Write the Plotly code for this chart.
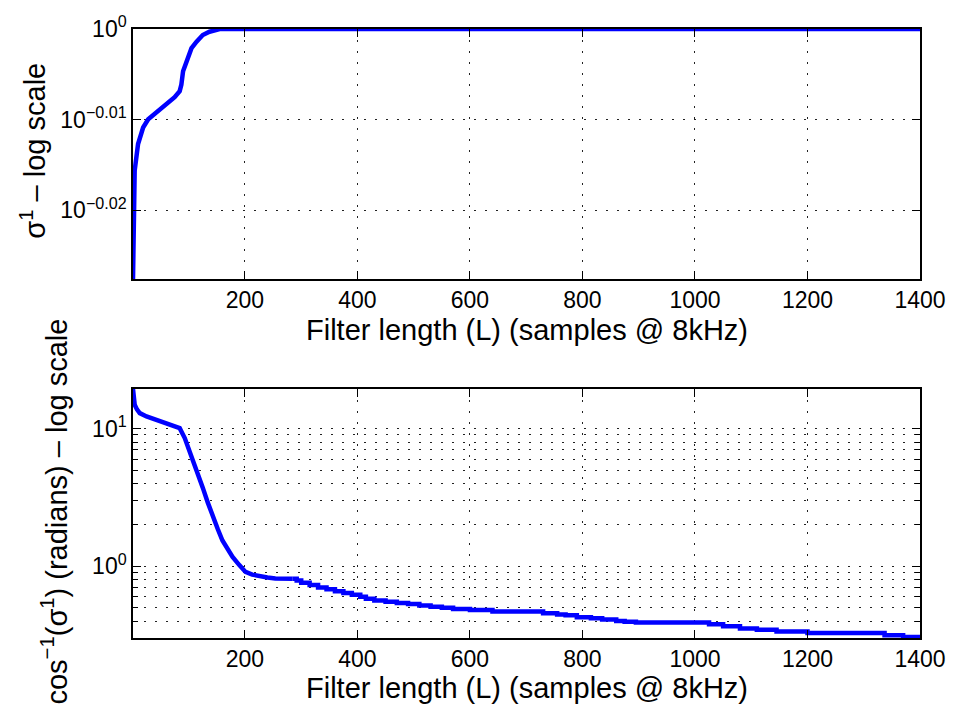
import plotly.graph_objects as go

# ---- data ----
# top panel: sigma^1 vs filter length
top_L = [1, 2, 4, 10, 19, 28, 43, 60, 75, 84, 87, 90, 96, 105, 114, 125, 137, 155, 1400]
top_val = [0.9384, 0.955, 0.96465, 0.97118, 0.97526, 0.97730, 0.97895, 0.98102, 0.9828,
           0.98433, 0.98598, 0.98931, 0.99179, 0.99513, 0.99680, 0.99848, 0.99931, 1.0, 1.0]

# bottom panel: acos(sigma^1), early smooth part
bot_L_a = [1, 2, 4, 8, 13, 25, 48, 70, 84, 93, 100, 108, 116, 125, 134, 143, 152, 160,
           170, 178, 190, 201, 213, 225, 240, 254, 285]
bot_val_a = [19.4, 16.5, 14.9, 13.8, 12.97, 12.27, 11.29, 10.6, 10.09, 8.55, 7.2, 5.81,
             4.7, 3.73, 2.9, 2.27, 1.85, 1.54, 1.33, 1.17, 1.02, 0.91, 0.87, 0.847,
             0.83, 0.815, 0.812]
# later staircase part
bot_L_b = [285, 292, 300, 315, 330, 345, 360, 375, 390, 405, 415, 430, 450, 470, 490, 510,
           530, 550, 570, 600, 640, 730, 755, 770, 790, 815, 835, 860, 875, 895, 1025,
           1050, 1080, 1110, 1145, 1200, 1337, 1370, 1400]
bot_val_b = [0.812, 0.79, 0.76, 0.73, 0.70, 0.68, 0.66, 0.64, 0.62, 0.60, 0.58, 0.565,
             0.553, 0.542, 0.532, 0.52, 0.509, 0.50, 0.49, 0.482, 0.469, 0.456, 0.447,
             0.44, 0.427, 0.42, 0.41, 0.40, 0.395, 0.39, 0.38, 0.366, 0.353, 0.346,
             0.336, 0.327, 0.316, 0.306, 0.302]

x_ticks = [200, 400, 600, 800, 1000, 1200, 1400]
top_yticks = [10 ** -0.02, 10 ** -0.01, 1.0]
top_ytext = ["10<sup>−0.02</sup>", "10<sup>−0.01</sup>", "10<sup>0</sup>"]
bot_yticks = [1.0, 10.0]
bot_ytext = ["10<sup>0</sup>", "10<sup>1</sup>"]
bot_minor = [0.4, 0.5, 0.6, 0.7, 0.8, 0.9, 2, 3, 4, 5, 6, 7, 8, 9]
x_title = "Filter length (L) (samples @ 8kHz)"
top_ytitle = "σ<sup>1</sup> – log scale"
bot_ytitle = "cos<sup>−1</sup>(σ<sup>1</sup>) (radians) – log scale"

FONT = "Liberation Sans, Arial, Helvetica, sans-serif"
BLUE = "#0000ff"
DOT = "2px,9px"

fig = go.Figure()
line = dict(color=BLUE, width=4.5)
fig.add_trace(go.Scatter(x=top_L, y=top_val, mode="lines", line=line,
                         xaxis="x", yaxis="y", showlegend=False, cliponaxis=False))
fig.add_trace(go.Scatter(x=bot_L_a, y=bot_val_a, mode="lines", line=line,
                         xaxis="x2", yaxis="y2", showlegend=False, cliponaxis=False))
fig.add_trace(go.Scatter(x=bot_L_b, y=bot_val_b, mode="lines",
                         line=dict(color=BLUE, width=4.5, shape="hv"),
                         xaxis="x2", yaxis="y2", showlegend=False, cliponaxis=False))

axcommon = dict(showline=True, linecolor="black", linewidth=1.5, mirror="ticks",
                ticks="inside", tickcolor="black", ticklen=8, tickwidth=1,
                showgrid=True, gridcolor="#222", gridwidth=1, griddash=DOT,
                zeroline=False, tickfont=dict(family=FONT, size=23, color="black"))

fig.update_layout(
    width=958, height=711,
    margin=dict(l=133, r=33, t=24, b=73),
    paper_bgcolor="white", plot_bgcolor="white",
    font=dict(family=FONT, color="black"),
    xaxis=dict(axcommon, domain=[0, 1], range=[1, 1400], tickvals=x_ticks,
               anchor="y"),
    yaxis=dict(axcommon, domain=[0.5896, 1], type="log", range=[-0.0276, 0],
               tickvals=top_yticks, ticktext=top_ytext, anchor="x"),
    xaxis2=dict(axcommon, domain=[0, 1], range=[1, 1400], tickvals=x_ticks,
                anchor="y2"),
    yaxis2=dict(axcommon, domain=[0, 0.4088], type="log", range=[-0.521, 1.288],
                tickvals=bot_yticks, ticktext=bot_ytext, anchor="x2",
                minor=dict(tickvals=bot_minor, ticks="inside", ticklen=5,
                           tickcolor="black", showgrid=True, gridcolor="#222",
                           gridwidth=1, griddash=DOT)),
)

ann = []
ann.append(dict(text=x_title, xref="paper", yref="paper", x=0.5, y=0.5065,
                showarrow=False, xanchor="center", yanchor="middle",
                font=dict(family=FONT, size=29, color="black")))
ann.append(dict(text=x_title, xref="paper", yref="paper", x=0.5, y=-0.0814,
                showarrow=False, xanchor="center", yanchor="middle",
                font=dict(family=FONT, size=29, color="black")))
ann.append(dict(text=top_ytitle, xref="paper", yref="paper", x=(32 - 133) / 792,
                y=(638 - 147) / 614, textangle=-90, showarrow=False,
                xanchor="center", yanchor="middle",
                font=dict(family=FONT, size=29, color="black")))
ann.append(dict(text=bot_ytitle, xref="paper", yref="paper", x=(54 - 133) / 792,
                y=(638 - 510) / 614, textangle=-90, showarrow=False,
                xanchor="center", yanchor="middle",
                font=dict(family=FONT, size=29, color="black")))
fig.update_layout(annotations=ann)

fig.write_html("out.html")
